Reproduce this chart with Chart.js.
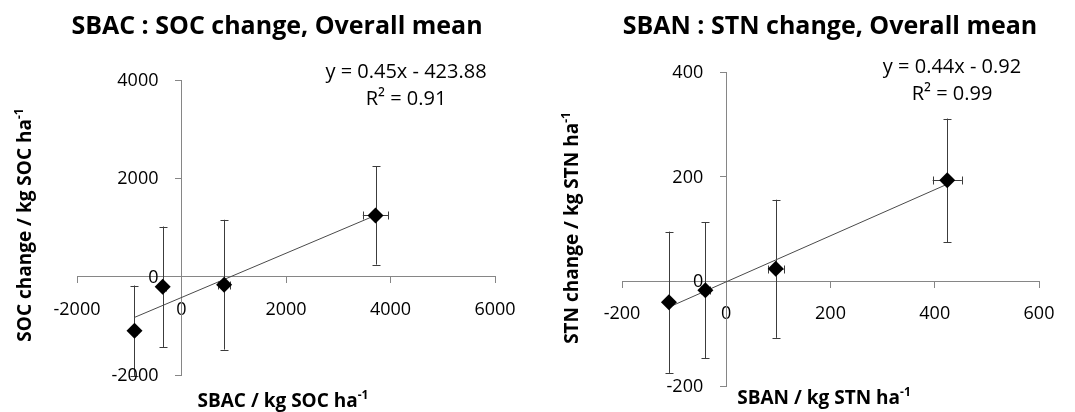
<!DOCTYPE html>
<html>
<head>
<meta charset="utf-8">
<script src="https://cdn.jsdelivr.net/npm/chart.js@4.4.1/dist/chart.umd.min.js"></script>
<style>
  body { margin: 0; background: #fff; }
  #wrap { position: relative; width: 1075px; height: 412px; }
  canvas { position: absolute; top: 0; }
</style>
</head>
<body>
<div id="wrap">
  <canvas id="socChart" width="537" height="412" style="left:0"></canvas>
  <canvas id="stnChart" width="538" height="412" style="left:537px"></canvas>
</div>
<script>
// SBAC vs SOC change (overall means, with error bars)
const socX    = [-900, -360, 816, 3713];
const socY    = [-1100, -205, -163, 1245];
const socErrX = [40, 60, 120, 243];
const socErrY = [920, 1225, 1320, 1000];
const socFit  = [0.45, -423.88];
const socXTicks = [-2000, 6000, 2000];   // min, max, step
const socYTicks = [-2000, 4000, 2000];

// SBAN vs STN change
const stnX    = [-110, -40, 95, 424];
const stnY    = [-40, -17, 24, 193];
const stnErrX = [4, 8, 15, 28];
const stnErrY = [135, 130, 132, 118];
const stnFit  = [0.44, -0.92];
const stnXTicks = [-200, 600, 200];
const stnYTicks = [-200, 400, 200];

const FONT = "'Open Sans', 'Liberation Sans', sans-serif";
const AXIS = '#868686';

// draw text made of normal + superscript parts, centred on x
function richText(ctx, parts, x, y, size) {
    const main = 'bold ' + size + 'px ' + FONT;
    const sup = 'bold ' + Math.round(size * 0.62) + 'px ' + FONT;
    let w = 0;
    parts.forEach(p => { ctx.font = p.sup ? sup : main; w += ctx.measureText(p.t).width; });
    let cx = x - w / 2;
    ctx.textAlign = 'left';
    ctx.textBaseline = 'alphabetic';
    parts.forEach(p => {
        ctx.font = p.sup ? sup : main;
        ctx.fillText(p.t, cx, p.sup ? y - size * 0.42 : y);
        cx += ctx.measureText(p.t).width;
    });
}

function makeChart(id, d) {
    const pts = d.x.map((v, i) => ({x: v, y: d.y[i]}));
    const lo = Math.min(...d.x), hi = Math.max(...d.x);
    const trend = [lo, hi].map(v => ({x: v, y: d.fit[0] * v + d.fit[1]}));

    const extras = {
        id: 'extras',
        beforeDatasetsDraw(chart) {
            const ctx = chart.ctx, xs = chart.scales.x, ys = chart.scales.y;
            ctx.save();
            ctx.strokeStyle = '#3c3c3c';
            ctx.lineWidth = 1;
            d.x.forEach((v, i) => {
                const px = Math.round(xs.getPixelForValue(v)) + 0.5;
                const py = Math.round(ys.getPixelForValue(d.y[i])) + 0.5;
                const top = ys.getPixelForValue(d.y[i] + d.ey[i]);
                const bot = ys.getPixelForValue(d.y[i] - d.ey[i]);
                const l = xs.getPixelForValue(v - d.ex[i]);
                const r = xs.getPixelForValue(v + d.ex[i]);
                ctx.beginPath();
                ctx.moveTo(px, top); ctx.lineTo(px, bot);
                ctx.moveTo(px - 4, Math.round(top) + 0.5); ctx.lineTo(px + 4, Math.round(top) + 0.5);
                ctx.moveTo(px - 4, Math.round(bot) + 0.5); ctx.lineTo(px + 4, Math.round(bot) + 0.5);
                if (r - l > 3) {
                    ctx.moveTo(l, py); ctx.lineTo(r, py);
                    ctx.moveTo(Math.round(l) + 0.5, py - 4); ctx.lineTo(Math.round(l) + 0.5, py + 4);
                    ctx.moveTo(Math.round(r) + 0.5, py - 4); ctx.lineTo(Math.round(r) + 0.5, py + 4);
                }
                ctx.stroke();
            });
            ctx.restore();
        },
        afterDraw(chart) {
            const ctx = chart.ctx, xs = chart.scales.x, ys = chart.scales.y;
            ctx.save();
            ctx.fillStyle = '#000';
            // y tick labels, set off to the left of the crossing axis
            const ax = xs.getPixelForValue(0);
            ctx.font = '18px ' + FONT;
            ctx.textAlign = 'right';
            ctx.textBaseline = 'middle';
            ys.ticks.forEach(t => ctx.fillText(String(t.value), ax - 23, ys.getPixelForValue(t.value) + 1));

            richText(ctx, [{t: d.title}], d.titlePos[0], d.titlePos[1], 25);
            richText(ctx, d.xTitle, d.xTitlePos[0], d.xTitlePos[1], 19);
            ctx.save();
            ctx.translate(d.yTitlePos[0], d.yTitlePos[1]);
            ctx.rotate(-Math.PI / 2);
            richText(ctx, d.yTitle, 0, 0, 19);
            ctx.restore();
            // trendline label
            ctx.font = '20px ' + FONT;
            ctx.textAlign = 'center';
            ctx.textBaseline = 'middle';
            ctx.fillText(d.eq, d.eqPos[0], d.eqPos[1]);
            ctx.fillText('R\u00b2 = ' + d.r2, d.eqPos[0], d.eqPos[1] + 27);
            ctx.restore();
        }
    };

    const tickFont = {family: FONT, size: 18};
    return new Chart(document.getElementById(id), {
        type: 'scatter',
        data: {
            datasets: [
                {data: pts, pointStyle: 'rectRot', radius: 8, backgroundColor: '#000',
                 borderColor: '#000', borderWidth: 0, order: 0},
                {type: 'line', data: trend, borderColor: '#4a4a4a', borderWidth: 1,
                 pointRadius: 0, fill: false, order: 1}
            ]
        },
        options: {
            responsive: false,
            animation: false,
            events: [],
            layout: {padding: d.pad},
            plugins: {legend: {display: false}, tooltip: {enabled: false}, title: {display: false}},
            scales: {
                x: {
                    type: 'linear', position: {y: 0},
                    min: d.xt[0], max: d.xt[1],
                    ticks: {stepSize: d.xt[2], color: '#000', font: tickFont, padding: 16,
                            callback: v => String(v)},
                    grid: {drawOnChartArea: false, tickLength: 6, color: AXIS},
                    border: {color: AXIS},
                    afterFit: s => { s.height = 0; }
                },
                y: {
                    type: 'linear', position: {x: 0},
                    min: d.yt[0], max: d.yt[1],
                    ticks: {stepSize: d.yt[2], display: false},
                    grid: {drawOnChartArea: false, tickLength: 6, color: AXIS},
                    border: {color: AXIS},
                    afterFit: s => { s.width = 0; }
                }
            }
        },
        plugins: [extras]
    });
}

makeChart('socChart', {
    x: socX, y: socY, ex: socErrX, ey: socErrY, fit: socFit, xt: socXTicks, yt: socYTicks,
    pad: {left: 77, right: 42, top: 80, bottom: 37},
    title: 'SBAC : SOC change, Overall mean', titlePos: [277, 34],
    xTitle: [{t: 'SBAC / kg SOC ha'}, {t: '-1', sup: true}], xTitlePos: [283, 407],
    yTitle: [{t: 'SOC change / kg SOC ha'}, {t: '-1', sup: true}], yTitlePos: [31, 225],
    eq: 'y = 0.45x - 423.88', r2: '0.91', eqPos: [406, 72]
});

makeChart('stnChart', {
    x: stnX, y: stnY, ex: stnErrX, ey: stnErrY, fit: stnFit, xt: stnXTicks, yt: stnYTicks,
    pad: {left: 85, right: 36, top: 72, bottom: 26},
    title: 'SBAN : STN change, Overall mean', titlePos: [293, 34],
    xTitle: [{t: 'SBAN / kg STN ha'}, {t: '-1', sup: true}], xTitlePos: [287, 404],
    yTitle: [{t: 'STN change / kg STN ha'}, {t: '-1', sup: true}], yTitlePos: [41, 228],
    eq: 'y = 0.44x - 0.92', r2: '0.99', eqPos: [415, 67]
});
</script>
</body>
</html>
